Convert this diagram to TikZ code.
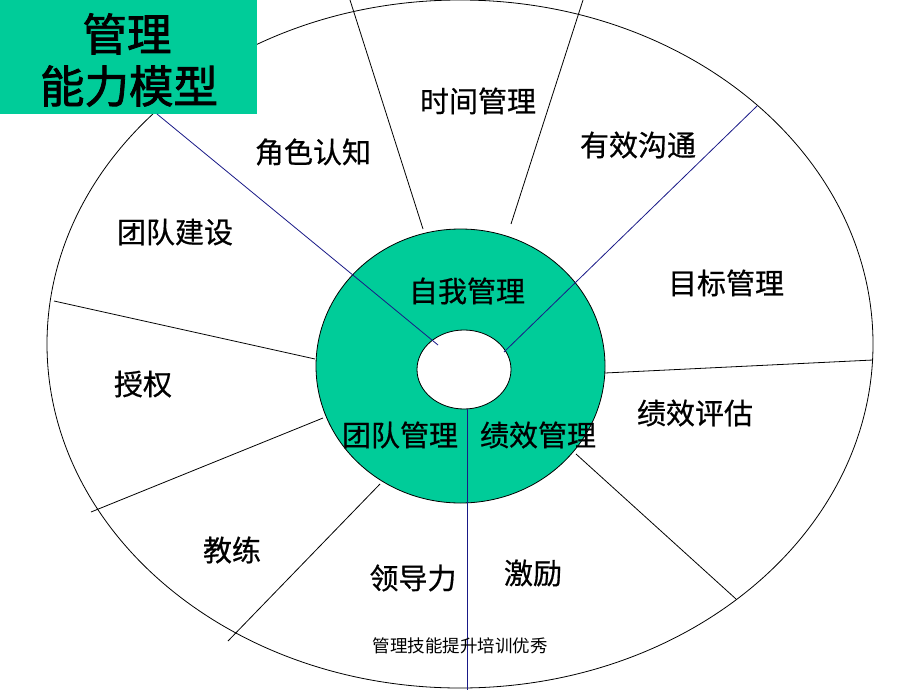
\documentclass[tikz,border=0pt]{standalone}
\usepackage{fontspec}
\newfontfamily\cjk[FakeBold=0.6]{Noto Sans CJK SC}
\newfontfamily\cjkheavy[FakeBold=1.8]{Noto Sans CJK SC}
\newfontfamily\cjkfoot{Noto Sans CJK SC}
\definecolor{ringgreen}{RGB}{0,204,153}
\definecolor{spokeblue}{RGB}{25,25,135}
\begin{document}
\begin{tikzpicture}[x=1pt,y=-1pt,
  lbl/.style={font=\cjk\fontsize{29}{33}\selectfont,inner sep=0pt},
  spoke/.style={line width=0.8pt},
  bluespoke/.style={line width=0.8pt,spokeblue}]
\useasboundingbox (0,0) rectangle (920,690);
\fill[white] (0,0) rectangle (920,690);
\draw[line width=0.8pt] (460,344) ellipse [x radius=413,y radius=344];
\fill[ringgreen] (0,0) rectangle (257,114);
\node[font=\cjkheavy\fontsize{44.5}{52}\selectfont,align=center,inner sep=0pt]
 (title) at (129,60) {\hspace*{-4pt}管理\\能力模型};
\coordinate (s2a) at (350,0);   \coordinate (s2b) at (423,229);
\coordinate (s3a) at (583,0);   \coordinate (s3b) at (511,224);
\coordinate (s5a) at (605,373); \coordinate (s5b) at (873,360);
\coordinate (s6a) at (576,454); \coordinate (s6b) at (736,599);
\coordinate (s8a) at (380,484); \coordinate (s8b) at (228,641);
\coordinate (s9a) at (323,418); \coordinate (s9b) at (91,512);
\coordinate (s10a) at (315,359); \coordinate (s10b) at (54,301);
\foreach \s in {2,3,5,6,8,9,10}
  \draw[spoke] (s\s a) -- (s\s b);
\filldraw[ringgreen,draw=black,line width=0.8pt,even odd rule]
 (460.5,366) ellipse [x radius=144.5,y radius=137]
 (464,369.5) ellipse [x radius=47,y radius=39.5];
\coordinate (b1a) at (157,114); \coordinate (b1b) at (438,345);
\coordinate (b2a) at (757,106); \coordinate (b2b) at (504,352);
\coordinate (b3a) at (467,409); \coordinate (b3b) at (467,690);
\foreach \b in {1,2,3}
  \draw[bluespoke] (b\b a) -- (b\b b);
\node[lbl] (role) at (313,152) {角色认知};
\node[lbl] (time) at (478,101) {时间管理};
\node[lbl] (comm) at (638,145) {有效沟通};
\node[lbl] (build) at (175,232) {团队建设};
\node[lbl] (goal) at (726,283) {目标管理};
\node[lbl] (self) at (467,291) {自我管理};
\node[lbl] (auth) at (143,384) {授权};
\node[lbl] (eval) at (695,413) {绩效评估};
\node[lbl] (team) at (400,435) {团队管理};
\node[lbl] (perf) at (538,435) {绩效管理};
\node[lbl] (coach) at (232,550) {教练};
\node[lbl] (lead) at (413,578) {领导力};
\node[lbl] (motiv) at (533,573) {激励};
\node[font=\cjkfoot\fontsize{17.5}{20}\selectfont,inner sep=0pt] (foot) at (460,646) {管理技能提升培训优秀};
\end{tikzpicture}
\end{document}
